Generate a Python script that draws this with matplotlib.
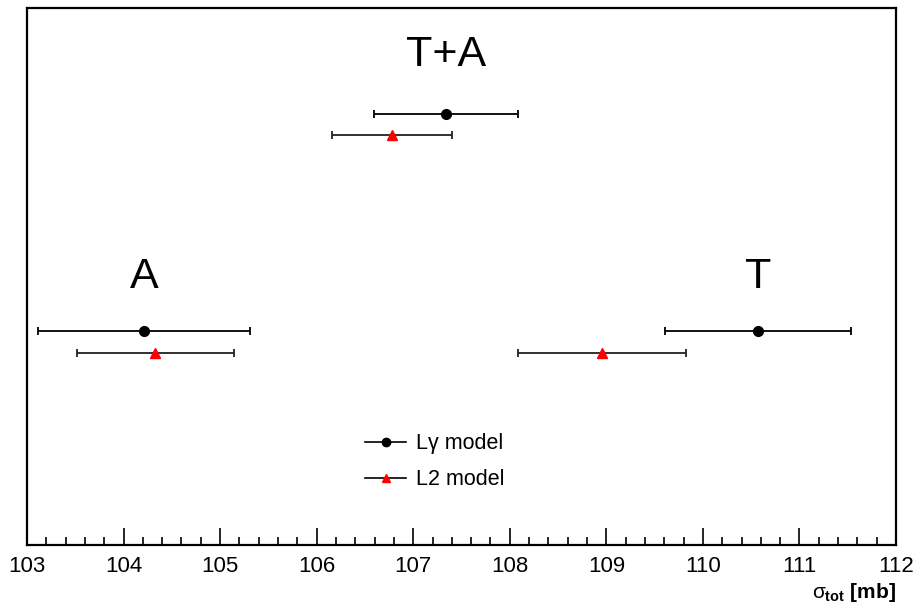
import matplotlib
matplotlib.use("Agg")
import matplotlib.pyplot as plt
from matplotlib.lines import Line2D
from matplotlib.ticker import MultipleLocator

plt.rcParams["font.family"] = ["Liberation Sans", "DejaVu Sans"]
plt.rcParams["mathtext.fontset"] = "custom"
plt.rcParams["mathtext.rm"] = "Liberation Sans"
plt.rcParams["mathtext.it"] = "Liberation Sans"
plt.rcParams["mathtext.bf"] = "Liberation Sans:bold"

# data: total cross section per fit (A, T, T+A)
groups = ["A", "T", "T+A"]
lg_sigma = [104.21, 110.57, 107.34]
lg_err = [1.10, 0.96, 0.75]
l2_sigma = [104.33, 108.96, 106.78]
l2_err = [0.81, 0.87, 0.62]
# row heights for each fit (arbitrary vertical axis)
lg_row = [0.398, 0.398, 0.803]
l2_row = [0.357, 0.357, 0.763]
label_row = [0.50, 0.50, 0.913]

f = plt.figure(figsize=(9.18, 6.08), dpi=100)
ax = f.add_axes([27 / 918, 1 - 545 / 608, 869 / 918, 537 / 608])

ax.errorbar(lg_sigma, lg_row, xerr=lg_err, fmt="o", color="black", ms=7,
            elinewidth=1.3, capsize=3, capthick=1.3, ecolor="black")
ax.errorbar(l2_sigma, l2_row, xerr=l2_err, fmt="^", color="red", ms=7,
            mec="red", elinewidth=1.3, capsize=3, capthick=1.3, ecolor="#222222")

for name, xs, ys in zip(groups, lg_sigma, label_row):
    ax.text(xs, ys, name, fontsize=31, ha="center", va="center")

ax.set_xlim(103, 112)
ax.set_ylim(0, 1)
ax.xaxis.set_major_locator(MultipleLocator(1))
ax.xaxis.set_minor_locator(MultipleLocator(0.2))
ax.tick_params(axis="x", which="both", direction="in", top=False, labelsize=16, pad=8)
ax.tick_params(axis="x", which="major", length=12, width=1.2)
ax.tick_params(axis="x", which="minor", length=6, width=1.2)
ax.set_yticks([])
for sp in ax.spines.values():
    sp.set_linewidth(1.6)

ax.set_xlabel(r"$\sigma_{\mathbf{tot}}$ [mb]", loc="right", fontsize=15,
              fontweight="bold", labelpad=3)

handles = [
    Line2D([], [], color="black", marker="o", ms=6, lw=1.2),
    Line2D([], [], color="black", marker="^", ms=6, lw=1.2, mfc="red", mec="red"),
]
ax.legend(handles, ["L\u03b3 model", "L2 model"], loc="center left",
          bbox_to_anchor=(0.377, 0.155), frameon=False, fontsize=15.5,
          handlelength=1.9, handletextpad=0.45, labelspacing=0.7, borderpad=0)

f.savefig("out.png", dpi=100)
plt.close(f)
